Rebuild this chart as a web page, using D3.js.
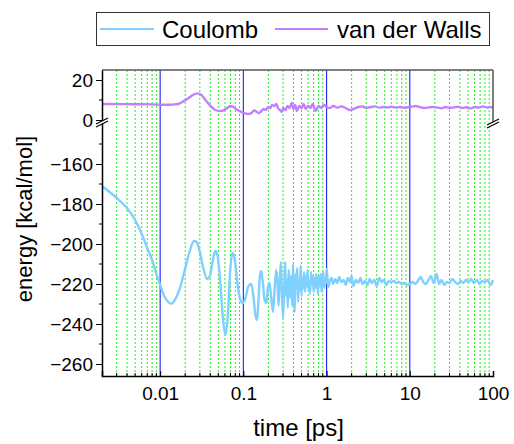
<!DOCTYPE html>
<html>
<head>
<meta charset="utf-8">
<script src="https://cdn.jsdelivr.net/npm/d3@7"></script>
<style>
  body { margin: 0; background: #fff; }
  text { font-family: "Liberation Sans", Arial, sans-serif; fill: #000; }
</style>
</head>
<body>
<svg width="514" height="444"></svg>
<script>
// series names
let seriesNames = ["Coulomb", "van der Walls"];

// Coulomb energy vs time
let coulombT = [0.002, 0.003, 0.0039, 0.005, 0.006, 0.007, 0.008, 0.009, 0.01, 0.0112, 0.0125, 0.0136, 0.015, 0.017,
  0.0195, 0.0225, 0.0255, 0.0275, 0.03, 0.033, 0.0365, 0.0395, 0.043, 0.046, 0.049, 0.053, 0.057, 0.061, 0.065,
  0.069, 0.074, 0.079, 0.085, 0.092, 0.099, 0.106, 0.114, 0.124, 0.132, 0.14, 0.146, 0.152, 0.158, 0.164, 0.172,
  0.18, 0.189, 0.197, 0.206, 0.215, 0.227, 0.236, 0.248, 0.256, 0.265, 0.273, 0.282, 0.29,
  0.30, 0.31, 0.318, 0.326, 0.334, 0.342, 0.35, 0.36, 0.368, 0.377, 0.386, 0.395, 0.404, 0.414, 0.424, 0.434,
  0.444, 0.455, 0.466, 0.477, 0.488, 0.5, 0.512, 0.524, 0.537, 0.55, 0.563, 0.577, 0.59, 0.605, 0.62, 0.634,
  0.65, 0.665, 0.68, 0.7, 0.716, 0.733, 0.75, 0.77, 0.79, 0.81, 0.83, 0.85, 0.87, 0.89, 0.91, 0.935, 0.96, 0.98, 1.0,
  1.05, 1.1, 1.15, 1.2, 1.27, 1.34, 1.42, 1.5, 1.6, 1.7, 1.8, 1.9, 2.0, 2.1, 2.25, 2.4, 2.55, 2.7, 2.9, 3.1, 3.3,
  3.5, 3.75, 4.0, 4.3, 4.6, 4.9, 5.2, 5.6, 6.0, 6.4, 6.9, 7.4, 8.0, 8.6, 9.3, 10, 10.8, 11.6, 12.5, 13.5, 14.5,
  15.6, 16.8, 18, 19.4, 21, 22.5, 24, 26, 28, 30, 32.5, 35, 38, 41, 44, 47, 51, 55, 59, 64, 69, 74, 80, 86, 93, 100];
let coulombE = [-171, -177, -181.5, -188, -195, -202, -208, -215, -220.5, -226, -229, -229.8, -228, -223,
  -214, -204, -198.5, -199, -204, -212, -217.5, -216, -208, -203.5, -206, -220, -238, -245.5, -236,
  -215, -204.5, -208, -220, -228, -229.6, -227, -221.5, -220, -226, -236, -238, -228, -216, -213.5, -220,
  -228, -229.5, -222, -219.5, -226, -234, -224, -213, -218, -231, -220, -209, -223,
  -237, -222, -209, -226, -218, -232, -213, -221, -227, -216, -231, -210, -224, -234, -215, -222,
  -212, -229, -219, -223, -211, -226, -217, -222, -214, -224, -216, -221, -213, -223, -219, -225,
  -214, -220, -216, -224, -217, -222, -215, -219, -225, -216, -221, -215, -224, -218, -214, -222, -218, -220, -212.5,
  -221.5, -218, -217, -220, -217.5, -219.5, -216.5, -219, -218, -220.5, -217, -219, -216, -221, -218, -219.5, -217, -220, -218.5, -220.5, -217.5,
  -219.5, -218, -221, -217, -219, -218, -220.5, -218.5, -219, -218.5, -219.5, -219, -220, -219.5, -220.5, -220, -219, -220, -218.5, -216.5, -219,
  -220, -218, -216, -219.5, -215, -220, -218, -220.5, -219, -219.5, -217.5, -219, -220, -218.5, -219.5, -218, -219, -217.5, -219.5, -218, -220, -218.5, -219, -218, -220.5, -218];

// van der Waals energy vs time
let vdwT = [0.002, 0.005, 0.008, 0.011, 0.013, 0.015, 0.017, 0.019, 0.022, 0.025, 0.028, 0.031, 0.035, 0.04,
  0.046, 0.052, 0.058, 0.064, 0.07, 0.076, 0.085, 0.095, 0.105, 0.115, 0.125, 0.135, 0.145, 0.155, 0.165, 0.175,
  0.185, 0.2, 0.21, 0.22, 0.235, 0.25, 0.26, 0.275, 0.29, 0.3, 0.32, 0.34, 0.36, 0.38, 0.4, 0.42, 0.44, 0.47,
  0.5, 0.53, 0.56, 0.6, 0.64, 0.68, 0.74, 0.8, 0.86, 0.93, 1.0, 1.1, 1.2, 1.35, 1.5, 1.7, 1.9, 2.1, 2.4, 2.7,
  3.0, 3.4, 3.8, 4.3, 4.8, 5.4, 6.0, 6.8, 7.6, 8.5, 9.5, 10.5, 11.8, 13.2, 15, 17, 19, 21.5, 24, 27, 30, 34,
  38, 43, 48, 54, 60, 68, 76, 85, 92, 100];
let vdwE = [8, 7.9, 7.8, 7.6, 7.6, 7.8, 8.2, 9.3, 11, 12.6, 13.3, 12.6, 10, 7.2,
  5, 4.5, 4.8, 6, 7, 6.5, 5, 4, 3.3, 3, 3.5, 4.8, 4, 3.5, 4.5, 5.5,
  5, 6.5, 5.8, 7.5, 7, 8, 6, 5, 4, 6, 5, 7, 6, 8.5, 5.5, 7.5, 4.5, 7,
  6, 8, 5.5, 7, 6, 8, 4.5, 7, 6, 7.5, 6.5, 6, 7, 6.2, 6.8, 6, 5, 5.5, 6.5, 6.8,
  6, 6.5, 6.8, 6.2, 6.5, 6.3, 6.6, 6.2, 6.5, 6.1, 6.4, 6.6, 7, 6.5, 6, 6.3, 6.5, 6.2, 5.8, 6.5, 6, 6.3,
  6.6, 6, 6.4, 5.8, 6.5, 6.2, 6.8, 6.2, 6.5, 6.3];

// axis ticks
let xTicks = [0.01, 0.1, 1, 10, 100];
let xTickLabels = ["0.01", "0.1", "1", "10", "100"];
let yTopTicks = [20, 0];
let yTopMinor = [10];
let yBotTicks = [-160, -180, -200, -220, -240, -260];
let yBotMinor = [-150, -170, -190, -210, -230, -250];

const colors = ["#80d0ff", "#c080ff"];

const svg = d3.select("svg");
const pL = 102, pR = 493, pT = 70, pB = 376, brk = 122;

// шкалы
const x = d3.scaleLog().domain([0.002, 100]).range([pL, pR]);
const yTop = d3.scaleLinear().domain([-1, 25]).range([brk, pT]);
const yBot = d3.scaleLinear().domain([-266, -139]).range([pB, brk]);

// минорные линии сетки
let minor = [];
[0.001, 0.01, 0.1, 1, 10].forEach(function(d) {
  for (let k = 2; k <= 9; k++) {
    let v = +(d * k).toPrecision(3);
    if (v > 0.002 && v < 100) minor.push(v);
  }
});

svg.append("g").selectAll("line").data(minor).join("line")
  .attr("x1", d => x(d)).attr("x2", d => x(d))
  .attr("y1", pT).attr("y2", pB)
  .attr("stroke", "#22ee22").attr("stroke-width", 1)
  .attr("stroke-dasharray", "2,2");

svg.append("g").selectAll("line").data(xTicks.slice(0, 4)).join("line")
  .attr("x1", d => x(d)).attr("x2", d => x(d))
  .attr("y1", pT).attr("y2", pB)
  .attr("stroke", "#3030ff").attr("stroke-width", 1.2);

// линии данных
const lineBot = d3.line()
  .x(d => x(d[0])).y(d => yBot(d[1]))
  .curve(d3.curveMonotoneX);
const lineTop = d3.line()
  .x(d => x(d[0])).y(d => yTop(d[1]))
  .curve(d3.curveMonotoneX);

svg.append("path")
  .datum(coulombT.map((t, i) => [t, coulombE[i]]))
  .attr("d", lineBot)
  .attr("fill", "none").attr("stroke", colors[0]).attr("stroke-width", 2.4)
  .attr("stroke-linejoin", "round");

svg.append("path")
  .datum(vdwT.map((t, i) => [t, vdwE[i]]))
  .attr("d", lineTop)
  .attr("fill", "none").attr("stroke", colors[1]).attr("stroke-width", 2.4)
  .attr("stroke-linejoin", "round");

// рамка сверху и справа (только верхняя часть)
svg.append("line").attr("x1", pL).attr("x2", pR).attr("y1", pT).attr("y2", pT)
  .attr("stroke", "#555").attr("stroke-width", 1.5);
svg.append("line").attr("x1", pR).attr("x2", pR).attr("y1", pT).attr("y2", brk)
  .attr("stroke", "#555").attr("stroke-width", 1.5);

// ось x
const gx = svg.append("g").attr("transform", "translate(0," + pB + ")");
gx.call(d3.axisBottom(x).tickValues(xTicks).tickFormat((d, i) => xTickLabels[i])
  .tickSize(-5).tickPadding(11));
gx.append("g").selectAll("line").data(minor).join("line")
  .attr("x1", d => x(d)).attr("x2", d => x(d)).attr("y1", 0).attr("y2", -3)
  .attr("stroke", "#000");

// оси y
function yAxis(scale, ticks, minorTicks) {
  const g = svg.append("g").attr("transform", "translate(" + pL + ",0)");
  g.call(d3.axisLeft(scale).tickValues(ticks).tickSize(6).tickPadding(3).tickSizeOuter(0));
  g.append("g").selectAll("line").data(minorTicks).join("line")
    .attr("y1", d => scale(d)).attr("y2", d => scale(d)).attr("x1", 0).attr("x2", -3)
    .attr("stroke", "#000");
  return g;
}
yAxis(yTop, yTopTicks, yTopMinor);
yAxis(yBot, yBotTicks, yBotMinor);

svg.selectAll(".tick text").attr("font-size", 19).attr("font-family", "Liberation Sans, Arial, sans-serif");
svg.selectAll(".domain").attr("stroke-width", 1.5);

// знаки разрыва оси
function breakMark(cx, cy) {
  const g = svg.append("g");
  g.append("path").attr("d", `M${cx - 6},${cy + 2} L${cx + 6},${cy - 4} L${cx + 6},${cy - 1} L${cx - 6},${cy + 5} Z`)
    .attr("fill", "#fff");
  g.append("line").attr("x1", cx - 6).attr("y1", cy + 2).attr("x2", cx + 6).attr("y2", cy - 4)
    .attr("stroke", "#000").attr("stroke-width", 1.2);
  g.append("line").attr("x1", cx - 6).attr("y1", cy + 5).attr("x2", cx + 6).attr("y2", cy - 1)
    .attr("stroke", "#000").attr("stroke-width", 1.2);
}
breakMark(pL, brk);
breakMark(pR, brk + 1);

// подписи осей
svg.append("text").attr("x", (pL + pR) / 2 + 1).attr("y", 436)
  .attr("text-anchor", "middle").attr("font-size", 24).text("time [ps]");
svg.append("text").attr("transform", "translate(32,219) rotate(-90)")
  .attr("text-anchor", "middle").attr("font-size", 22).text("energy [kcal/mol]");

// легенда
svg.append("rect").attr("x", 96.5).attr("y", 12.5).attr("width", 393).attr("height", 33)
  .attr("fill", "#fff").attr("stroke", "#333").attr("stroke-width", 1);
const legX = [[100, 154, 162], [275, 328, 337]];
seriesNames.forEach(function(name, i) {
  svg.append("line").attr("x1", legX[i][0]).attr("x2", legX[i][1]).attr("y1", 29).attr("y2", 29)
    .attr("stroke", colors[i]).attr("stroke-width", 1.8);
  svg.append("text").attr("x", legX[i][2]).attr("y", 37.5).attr("font-size", 24).text(name);
});
</script>
</body>
</html>
